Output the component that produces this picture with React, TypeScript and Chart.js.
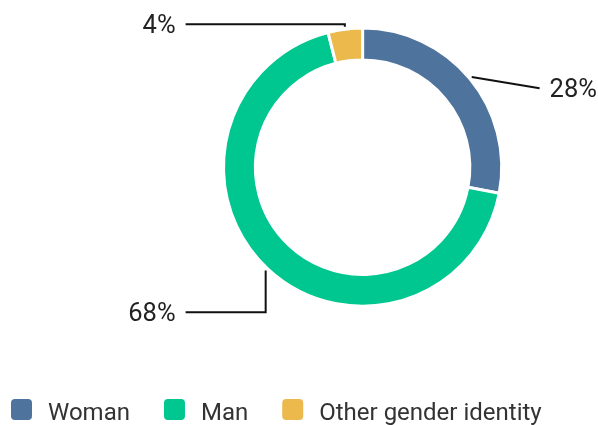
import React, { useEffect, useRef } from "react";
import { Chart, registerables } from "chart.js";

Chart.register(...registerables);

const categories = ["Woman", "Man", "Other gender identity"];
const values = [28, 68, 4];
const valueLabels = ["28%", "68%", "4%"];
const colors = ["#4e739c", "#00c78f", "#ecb94d"];

// label placement (relative to the doughnut centre), styling only
const labelLayout = [
  { side: "right", dx: 177, dy: -79 },
  { side: "left", dx: -177, dy: 145 },
  { side: "left", dx: -177, dy: -143 },
];

const FONT = "Roboto, 'Noto Sans', sans-serif";

const labelsPlugin = {
  id: "leaderLabels",
  afterDraw(chart: any) {
    const ctx = chart.ctx;
    const meta = chart.getDatasetMeta(0);
    ctx.save();
    meta.data.forEach((arc: any, i: number) => {
      const { x, y, startAngle, endAngle, outerRadius } = arc.getProps(
        ["x", "y", "startAngle", "endAngle", "outerRadius"],
        true
      );
      const mid = (startAngle + endAngle) / 2;
      const r0 = outerRadius + 2.5;
      const sx = x + Math.cos(mid) * r0;
      const sy = y + Math.sin(mid) * r0;
      const L = labelLayout[i];
      const ly = y + L.dy;
      ctx.strokeStyle = "#111";
      ctx.lineWidth = 2;
      ctx.beginPath();
      ctx.moveTo(sx, sy);
      ctx.font = `25.5px ${FONT}`;
      ctx.fillStyle = "#222";
      ctx.textBaseline = "alphabetic";
      if (L.side === "right") {
        const ex = x + L.dx;
        ctx.lineTo(ex, ly);
        ctx.stroke();
        ctx.textAlign = "left";
        ctx.fillText(valueLabels[i], ex + 10, ly + 9);
      } else {
        const ex = x + L.dx;
        ctx.lineTo(sx, ly);
        ctx.lineTo(ex, ly);
        ctx.stroke();
        ctx.textAlign = "right";
        ctx.fillText(valueLabels[i], ex - 10, ly + 9);
      }
    });

    // legend
    let lx = 11;
    const boxTop = 399;
    const box = 21;
    ctx.font = `24px ${FONT}`;
    ctx.textAlign = "left";
    ctx.textBaseline = "alphabetic";
    categories.forEach((c, i) => {
      ctx.fillStyle = colors[i];
      ctx.beginPath();
      (ctx as any).roundRect(lx, boxTop, box, box, 4);
      ctx.fill();
      ctx.fillStyle = "#333";
      const tx = lx + box + 16;
      ctx.fillText(c, tx, boxTop + box);
      lx = tx + ctx.measureText(c).width + 34;
    });
    ctx.restore();
  },
};

export default function App() {
  const ref = useRef<HTMLCanvasElement>(null);
  useEffect(() => {
    if (!ref.current) return;
    const chart = new Chart(ref.current, {
      type: "doughnut",
      data: {
        labels: categories,
        datasets: [
          {
            data: values,
            backgroundColor: colors,
            borderColor: "#ffffff",
            borderWidth: 3,
            hoverOffset: 0,
          },
        ],
      },
      options: {
        animation: false,
        responsive: true,
        maintainAspectRatio: false,
        cutout: "77.1%",
        layout: { padding: { left: 222, right: 94.8, top: 26.6, bottom: 117.2 } },
        plugins: {
          legend: { display: false },
          tooltip: { enabled: false },
        },
      },
      plugins: [labelsPlugin],
    });
    return () => chart.destroy();
  }, []);
  return (
    <div style={{ position: "absolute", left: 0, top: 0, width: 598, height: 425 }}>
      <canvas ref={ref} />
    </div>
  );
}
